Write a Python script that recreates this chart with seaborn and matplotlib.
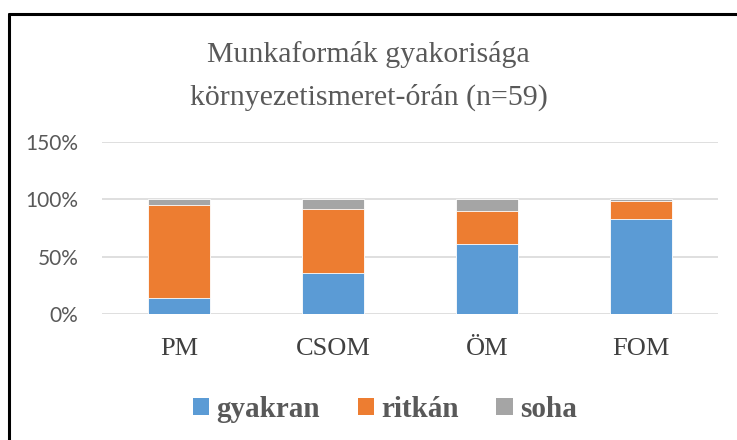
import numpy as np
import pandas as pd
import matplotlib
matplotlib.use("Agg")
import matplotlib.pyplot as plt
import seaborn as sns
from matplotlib.patches import Patch
from matplotlib.lines import Line2D

categories = ["PM", "CSOM", "ÖM", "FOM"]
gyakran = [13.6, 35.6, 61.0, 83.1]
ritkan = [81.4, 55.9, 28.8, 15.2]
soha = [5.0, 8.5, 10.2, 1.7]
series_names = ["gyakran", "ritkán", "soha"]
colors = ["#5B9BD5", "#ED7D31", "#A5A5A5"]
yticks = [0, 50, 100, 150]
title_lines = ["Munkaformák gyakorisága", "környezetismeret-órán (n=59)"]

df = pd.DataFrame({"kat": categories, "gyakran": gyakran, "ritkan": ritkan, "soha": soha})
df["c1"] = df["gyakran"]
df["c2"] = df["c1"] + df["ritkan"]
df["c3"] = df["c2"] + df["soha"]

sns.set_theme(style="white")
serif = ["Liberation Serif", "DejaVu Serif"]
plt.rcParams["font.family"] = serif

fig = plt.figure(figsize=(7.37, 4.4), dpi=100)
ax = fig.add_axes([0.1384, 0.2864, 0.8358, 0.3909])

# draw from tallest to shortest so the stacks overlay
for col, color in zip(["c3", "c2", "c1"], colors[::-1]):
    sns.barplot(data=df, x="kat", y=col, color=color, width=0.4, ax=ax,
                saturation=1, linewidth=0.6, edgecolor="white", zorder=3)

ax.set_ylim(0, 150)
ax.set_xlim(-0.5, 3.5)
ax.set_yticks(yticks)
ax.set_yticklabels([f"{v}%" for v in yticks], fontsize=15, color="#595959",
                   family=["Lato", "DejaVu Sans"])
ax.set_xticks(range(len(categories)))
ax.set_xticklabels(categories, fontsize=19, color="#404040")
ax.tick_params(axis="both", length=0)
ax.tick_params(axis="x", pad=17)
ax.tick_params(axis="y", pad=17)
ax.yaxis.grid(True, color="#D9D9D9", linewidth=1.2, zorder=0)
ax.set_axisbelow(True)
ax.set_xlabel("")
ax.set_ylabel("")
for s in ax.spines.values():
    s.set_visible(False)

fig.text(0.5, 1 - 54 / 440, title_lines[0], ha="center", va="center",
         fontsize=21.5, color="#595959")
fig.text(0.5, 1 - 97 / 440, title_lines[1], ha="center", va="center",
         fontsize=21.5, color="#595959")

handles = [Patch(facecolor=c, edgecolor="none") for c in colors]
fig.legend(handles, series_names, loc="center", bbox_to_anchor=(0.522, 0.07), ncol=3,
           frameon=False, prop={"family": serif, "weight": "bold", "size": 21},
           labelcolor="#595959", handlelength=0.55, handleheight=0.55,
           handletextpad=0.25, columnspacing=1.3)

# chart frame (top and left edges visible)
fig.add_artist(Line2D([8.5 / 737, 1], [1 - 14.5 / 440] * 2, color="black", linewidth=2.2,
                      transform=fig.transFigure))
fig.add_artist(Line2D([8.5 / 737] * 2, [0, 1 - 14.5 / 440], color="black", linewidth=2.2,
                      transform=fig.transFigure))

fig.savefig("out.png", dpi=100, facecolor="white")
